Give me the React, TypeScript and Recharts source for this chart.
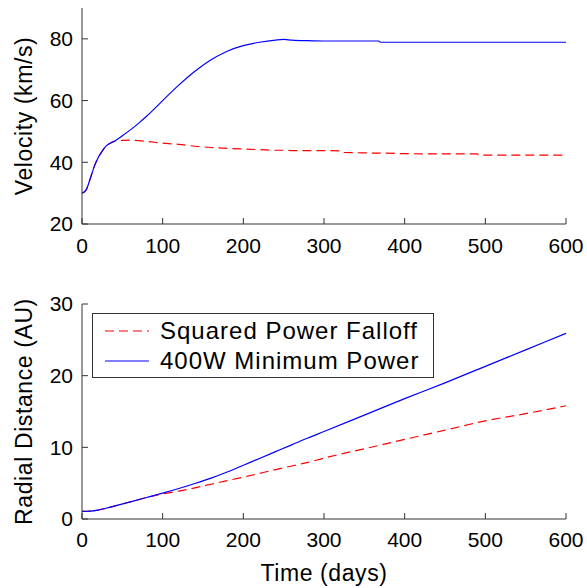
import React from 'react';
import { LineChart, Line, XAxis, YAxis, Legend } from 'recharts';

// ---------- data ----------
const velocityDays = [0, 5, 10, 15, 20, 25, 30, 35, 40, 50, 60, 70, 80, 90, 100, 120, 140, 160, 180, 200, 220, 240, 250, 260, 280, 300, 320, 322, 340, 360, 368, 370, 400, 450, 490, 492, 500, 550, 600];
const velocity400W = [30.0, 31.0, 34.5, 38.5, 41.5, 43.6, 45.3, 46.2, 46.8, 48.6, 50.5, 52.6, 54.9, 57.4, 60.0, 65.0, 69.5, 73.2, 76.0, 77.8, 78.9, 79.6, 79.8, 79.6, 79.4, 79.3, 79.3, 79.3, 79.3, 79.3, 79.3, 78.9, 78.9, 78.9, 78.9, 78.9, 78.9, 78.9, 78.9];
const velocitySquared = [30.0, 31.0, 34.5, 38.5, 41.5, 43.6, 45.3, 46.2, 46.8, 47.1, 47.2, 47.0, 46.8, 46.5, 46.2, 45.8, 45.2, 44.8, 44.5, 44.3, 44.1, 43.9, 43.9, 43.8, 43.8, 43.8, 43.7, 43.2, 43.1, 43.0, 43.0, 43.0, 42.8, 42.7, 42.7, 42.3, 42.3, 42.3, 42.3];

const distanceDays = [0, 10, 20, 30, 40, 60, 80, 100, 120, 140, 160, 180, 200, 220, 240, 260, 280, 300, 350, 400, 450, 500, 550, 600];
const distance400W = [1.05, 1.1, 1.25, 1.5, 1.8, 2.4, 3.0, 3.6, 4.25, 4.95, 5.7, 6.55, 7.5, 8.45, 9.4, 10.35, 11.3, 12.2, 14.5, 16.8, 19.0, 21.3, 23.6, 25.9];
const distanceSquared = [1.05, 1.1, 1.25, 1.5, 1.8, 2.4, 3.0, 3.5, 3.9, 4.35, 4.85, 5.35, 5.85, 6.35, 6.9, 7.4, 7.9, 8.5, 9.8, 11.1, 12.4, 13.7, 14.7, 15.8];

const timeTicks = [0, 100, 200, 300, 400, 500, 600];
const velocityTicks = [20, 40, 60, 80];
const distanceTicks = [0, 10, 20, 30];
const seriesNames = ['Squared Power Falloff', '400W Minimum Power'];
const axisTitles = ['Velocity (km/s)', 'Radial Distance (AU)', 'Time (days)'];

// ---------- styles ----------
const FONT = '"Liberation Sans", Arial, Helvetica, sans-serif';
const FRAME = '#333333';
const BLUE = '#0000ff';
const RED = '#ff0000';
const tickStyle = { fontSize: 21, fill: '#000', fontFamily: FONT };

const velocityData = velocityDays.map((t, i) => ({ t, squared: velocitySquared[i], minPower: velocity400W[i] }));
const distanceData = distanceDays.map((t, i) => ({ t, squared: distanceSquared[i], minPower: distance400W[i] }));

const YTitle = (text: string) => (props: any) => {
  const vb = props.viewBox || {};
  const cy = vb.y + vb.height / 2;
  const cx = 24;
  return (
    <text
      x={cx}
      y={cy}
      transform={`rotate(-90, ${cx}, ${cy})`}
      textAnchor="middle"
      dominantBaseline="central"
      fontSize={23}
      fontFamily={FONT}
      letterSpacing={0.6}
      fill="#000"
    >
      {text}
    </text>
  );
};

const XTitle = (text: string, y: number) => (props: any) => {
  const vb = props.viewBox || {};
  const cx = vb.x + vb.width / 2;
  return (
    <text x={cx} y={y} textAnchor="middle" dominantBaseline="central" fontSize={23} fontFamily={FONT} letterSpacing={0.6} fill="#000">
      {text}
    </text>
  );
};

const LegendBox = () => (
  <div
    style={{
      position: 'relative',
      width: 342,
      height: 65,
      border: `1px solid ${FRAME}`,
      boxSizing: 'border-box',
      background: '#fff',
      fontFamily: FONT,
      fontSize: 24,
      letterSpacing: 1,
      color: '#000',
    }}
  >
    {[0, 1].map((i) => (
      <div key={i} style={{ position: 'absolute', left: 0, top: i === 0 ? 3 : 33, height: 28, width: 340, display: 'flex', alignItems: 'center' }}>
        <svg width={60} height={28} style={{ display: 'block' }}>
          <line
            x1={12}
            x2={56}
            y1={14}
            y2={14}
            stroke={i === 0 ? RED : BLUE}
            strokeWidth={1.2}
            strokeDasharray={i === 0 ? '9 5' : undefined}
          />
        </svg>
        <span style={{ marginLeft: 7, whiteSpace: 'nowrap', lineHeight: '28px' }}>{seriesNames[i]}</span>
      </div>
    ))}
  </div>
);

export default function App() {
  return (
    <div style={{ position: 'absolute', left: 0, top: 0, width: 587, height: 588, background: '#fff' }}>
      <div style={{ position: 'absolute', left: 0, top: 0 }}>
        <LineChart width={587} height={270} data={velocityData} margin={{ top: 8, right: 21, bottom: 0, left: 0 }}>
          <XAxis
            xAxisId={0}
            dataKey="t"
            type="number"
            domain={[0, 600]}
            ticks={timeTicks}
            height={46}
            tickSize={-6}
            tickMargin={20}
            tick={tickStyle}
            stroke={FRAME}
            interval={0}
          />
          <XAxis
            xAxisId="top"
            orientation="top"
            type="number"
            domain={[0, 600]}
            ticks={timeTicks}
            height={0}
            tickSize={-6}
            tickFormatter={() => ''}
            stroke={FRAME}
            interval={0}
          />
          <YAxis
            yAxisId={0}
            type="number"
            domain={[20, 90]}
            ticks={velocityTicks}
            width={82}
            tickSize={-6}
            tickMargin={15}
            tick={tickStyle}
            stroke={FRAME}
            interval={0}
            label={{ content: YTitle(axisTitles[0]) }}
          />
          <YAxis
            yAxisId="right"
            orientation="right"
            type="number"
            domain={[20, 90]}
            ticks={velocityTicks}
            width={0}
            tickSize={-6}
            tickFormatter={() => ''}
            stroke={FRAME}
            interval={0}
          />
          <Line dataKey="squared" stroke={RED} strokeWidth={1.2} strokeDasharray="9 5" dot={false} isAnimationActive={false} type="monotone" />
          <Line dataKey="minPower" stroke={BLUE} strokeWidth={1.2} dot={false} isAnimationActive={false} type="monotone" />
        </LineChart>
      </div>
      <div style={{ position: 'absolute', left: 0, top: 280 }}>
        <LineChart width={587} height={308} data={distanceData} margin={{ top: 24, right: 21, bottom: 0, left: 0 }}>
          <XAxis
            xAxisId={0}
            dataKey="t"
            type="number"
            domain={[0, 600]}
            ticks={timeTicks}
            height={69}
            tickSize={-6}
            tickMargin={19}
            tick={tickStyle}
            stroke={FRAME}
            interval={0}
            label={{ content: XTitle(axisTitles[2], 293) }}
          />
          <XAxis
            xAxisId="top"
            orientation="top"
            type="number"
            domain={[0, 600]}
            ticks={timeTicks}
            height={0}
            tickSize={-6}
            tickFormatter={() => ''}
            stroke={FRAME}
            interval={0}
          />
          <YAxis
            yAxisId={0}
            type="number"
            domain={[0, 30]}
            ticks={distanceTicks}
            width={82}
            tickSize={-6}
            tickMargin={15}
            tick={tickStyle}
            stroke={FRAME}
            interval={0}
            label={{ content: YTitle(axisTitles[1]) }}
          />
          <YAxis
            yAxisId="right"
            orientation="right"
            type="number"
            domain={[0, 30]}
            ticks={distanceTicks}
            width={0}
            tickSize={-6}
            tickFormatter={() => ''}
            stroke={FRAME}
            interval={0}
          />
          <Legend
            layout="vertical"
            align="center"
            verticalAlign="middle"
            content={() => <LegendBox />}
            wrapperStyle={{ position: 'absolute', left: 92, top: 33, width: 342, height: 65 }}
          />
          <Line dataKey="squared" name={seriesNames[0]} stroke={RED} strokeWidth={1.2} strokeDasharray="9 5" dot={false} isAnimationActive={false} type="monotone" />
          <Line dataKey="minPower" name={seriesNames[1]} stroke={BLUE} strokeWidth={1.2} dot={false} isAnimationActive={false} type="monotone" />
        </LineChart>
      </div>
    </div>
  );
}
